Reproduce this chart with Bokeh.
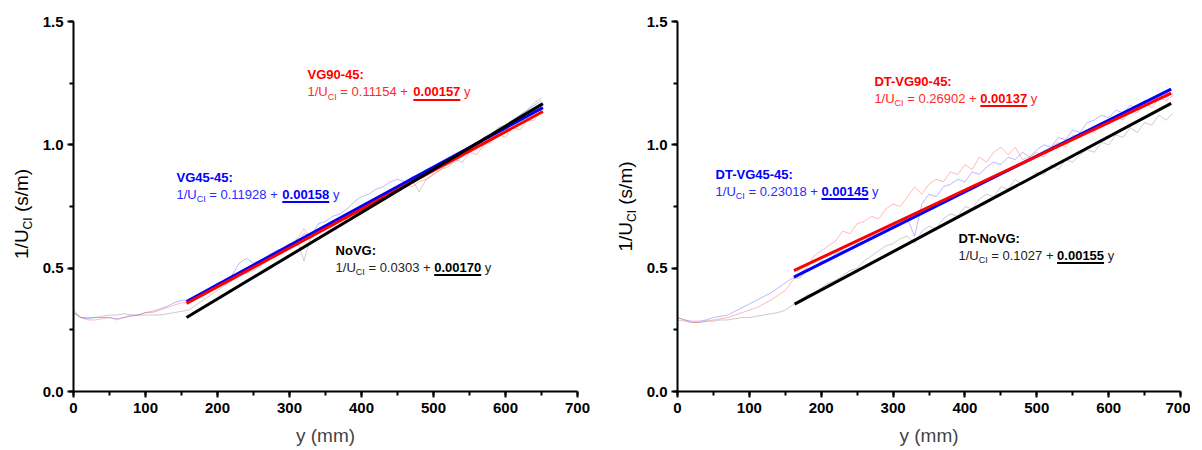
import math
from bokeh.plotting import figure
from bokeh.models import SingleIntervalTicker, PrintfTickFormatter, Range1d
from bokeh.core.properties import value
from bokeh.layouts import row
from bokeh.embed import file_html
from bokeh.resources import INLINE

FONT = "Liberation Sans"

# ---------------- data ----------------
# sampling positions (mm)
left_x_low = [0, 10, 20, 30, 40, 50, 60, 70, 80, 90, 100, 110, 120, 130, 140, 150]
left_x_up = list(range(160, 651, 10))
right_x_low = [0, 10, 20, 30, 40, 50, 60, 70, 80, 90, 100, 110, 120, 130, 140, 150, 160]
right_x_up = list(range(170, 691, 10))

# left panel raw traces (1/U_CI, s/m)
left_red_low = [0.33, 0.30, 0.29, 0.29, 0.295, 0.30, 0.29, 0.30, 0.31, 0.31, 0.32, 0.32, 0.33, 0.34, 0.35, 0.36]
left_blue_low = [0.32, 0.30, 0.295, 0.30, 0.30, 0.30, 0.295, 0.30, 0.305, 0.31, 0.32, 0.325, 0.335, 0.345, 0.36, 0.37]
left_gray_low = [0.32, 0.30, 0.30, 0.30, 0.305, 0.31, 0.31, 0.315, 0.31, 0.31, 0.31, 0.31, 0.31, 0.315, 0.32, 0.325]
left_red_up = [0.36, 0.38, 0.39, 0.41, 0.43, 0.45, 0.46, 0.48, 0.49, 0.51,
               0.52, 0.54, 0.55, 0.57, 0.58, 0.61, 0.66, 0.62, 0.65, 0.66,
               0.68, 0.70, 0.70, 0.73, 0.74, 0.75, 0.78, 0.78, 0.81, 0.81,
               0.84, 0.83, 0.85, 0.86, 0.88, 0.90, 0.91, 0.94, 0.93, 0.97,
               0.96, 1.00, 1.01, 1.04, 1.03, 1.07, 1.06, 1.10, 1.10, 1.14]
left_blue_up = [0.37, 0.39, 0.40, 0.42, 0.44, 0.45, 0.47, 0.52, 0.54, 0.52,
                0.53, 0.55, 0.57, 0.58, 0.60, 0.59, 0.64, 0.63, 0.68, 0.69,
                0.71, 0.72, 0.74, 0.77, 0.79, 0.80, 0.82, 0.83, 0.85, 0.86,
                0.85, 0.87, 0.88, 0.90, 0.91, 0.93, 0.94, 0.96, 0.97, 0.99,
                1.00, 1.03, 1.04, 1.07, 1.08, 1.10, 1.12, 1.14, 1.16, 1.18]
left_gray_up = [0.33, 0.35, 0.37, 0.39, 0.41, 0.43, 0.45, 0.47, 0.48, 0.49,
                0.51, 0.53, 0.55, 0.56, 0.58, 0.62, 0.53, 0.63, 0.64, 0.66,
                0.67, 0.69, 0.71, 0.72, 0.74, 0.76, 0.77, 0.79, 0.81, 0.82,
                0.84, 0.86, 0.81, 0.86, 0.88, 0.90, 0.92, 0.93, 0.95, 0.98,
                0.99, 1.02, 1.04, 1.05, 1.08, 1.10, 1.12, 1.14, 1.17, 1.19]

# right panel raw traces
right_red_low = [0.30, 0.29, 0.28, 0.28, 0.285, 0.29, 0.295, 0.30, 0.31, 0.32, 0.33, 0.34, 0.355, 0.37, 0.39, 0.41, 0.45]
right_blue_low = [0.30, 0.29, 0.285, 0.285, 0.29, 0.30, 0.305, 0.31, 0.325, 0.34, 0.355, 0.37, 0.385, 0.40, 0.42, 0.44, 0.46]
right_gray_low = [0.29, 0.285, 0.28, 0.28, 0.285, 0.285, 0.29, 0.29, 0.295, 0.30, 0.30, 0.305, 0.31, 0.315, 0.32, 0.33, 0.35]
right_red_up = [0.48, 0.50, 0.55, 0.57, 0.59, 0.61, 0.65, 0.64, 0.68, 0.69,
                0.71, 0.70, 0.74, 0.76, 0.75, 0.79, 0.83, 0.80, 0.84, 0.86,
                0.85, 0.89, 0.88, 0.92, 0.90, 0.95, 0.93, 0.97, 0.99, 0.96,
                0.99, 0.94, 0.95, 0.97, 0.95, 0.99, 1.01, 0.99, 1.04, 1.03,
                1.06, 1.05, 1.09, 1.08, 1.12, 1.10, 1.14, 1.13, 1.17, 1.15,
                1.19, 1.18, 1.20]
right_blue_up = [0.46, 0.49, 0.50, 0.53, 0.53, 0.56, 0.57, 0.58, 0.60, 0.61,
                 0.63, 0.64, 0.66, 0.67, 0.69, 0.70, 0.63, 0.76, 0.80, 0.79,
                 0.83, 0.84, 0.86, 0.85, 0.89, 0.88, 0.91, 0.93, 0.92, 0.95,
                 0.94, 0.97, 0.95, 0.98, 1.00, 0.99, 1.03, 1.02, 1.06, 1.05,
                 1.09, 1.10, 1.12, 1.11, 1.14, 1.13, 1.16, 1.15, 1.18, 1.17,
                 1.20, 1.19, 1.21]
right_gray_up = [0.37, 0.39, 0.40, 0.42, 0.44, 0.45, 0.47, 0.49, 0.50, 0.53,
                 0.55, 0.57, 0.59, 0.60, 0.62, 0.63, 0.60, 0.65, 0.67, 0.66,
                 0.70, 0.72, 0.71, 0.75, 0.74, 0.78, 0.80, 0.79, 0.83, 0.82,
                 0.86, 0.84, 0.86, 0.89, 0.88, 0.92, 0.90, 0.94, 0.93, 0.96,
                 0.98, 0.97, 1.01, 1.00, 1.04, 1.03, 1.07, 1.05, 1.09, 1.08,
                 1.12, 1.10, 1.13]

# linear fits (end points as drawn) : order = VG90 (red), VG45 (blue), NoVG (black)
left_fit_x0 = [157, 157, 157]
left_fit_x1 = [652, 652, 652]
left_fit_y0 = [0.357, 0.365, 0.300]
left_fit_y1 = [1.135, 1.151, 1.167]
right_fit_x0 = [162, 162, 163]
right_fit_x1 = [687, 687, 687]
right_fit_y0 = [0.490, 0.464, 0.354]
right_fit_y1 = [1.210, 1.226, 1.168]

left_names = ["VG90-45:", "VG45-45:", "NoVG:"]
left_intercepts = ["0.11154", "0.11928", "0.0303"]
left_slopes = ["0.00157", "0.00158", "0.00170"]
right_names = ["DT-VG90-45:", "DT-VG45-45:", "DT-NoVG:"]
right_intercepts = ["0.26902", "0.23018", "0.1027"]
right_slopes = ["0.00137", "0.00145", "0.00155"]

# annotation anchors (mm, 1/U) -- title baseline
left_anchor_x = [325, 143, 364]
left_anchor_y = [1.261, 0.847, 0.551]
right_anchor_x = [274, 53, 391]
right_anchor_y = [1.236, 0.859, 0.600]

# ---------------- styling ----------------
FIT_COLORS = ["#ff0000", "#0000ff", "#000000"]
EQ_COLORS = ["#ff2a2a", "#2a2aff", "#222222"]
TRACE_COLORS = ["#ff5050", "#5050ff", "#808080"]
FRAME_H = 370
TOP = 21
BOTTOM = 52
BASE_SHIFT = 0.42  # em: renderer draws "alphabetic" text this much below the anchor

WREG = {'0': .556, '1': .556, '2': .556, '3': .556, '4': .556, '5': .556, '6': .556,
        '7': .556, '8': .556, '9': .556, '.': .278, ' ': .278, '/': .278, '=': .584,
        '+': .584, 'U': .722, 'C': .722, 'I': .278, 'y': .5, '(': .333, ')': .333,
        's': .5, 'm': .833}


def tw(s, size):
    return sum(WREG.get(c, .556) for c in s) * size


def txt(p, x, y, s, size, color, sx, sy, bold=False, rotated=False):
    if rotated:
        x = x - BASE_SHIFT * size / sx
    else:
        y = y + BASE_SHIFT * size / sy
    p.text(x=[x], y=[y], text=[s], text_font=value(FONT), text_font_size=value(f"{size}px"),
           text_font_style="bold" if bold else "normal", text_color=color,
           text_baseline="alphabetic", text_align="left",
           angle=math.pi / 2 if rotated else 0.0)


def make_fig(frame_w, left_b, right_b):
    p = figure(frame_width=frame_w, frame_height=FRAME_H,
               x_range=Range1d(0, 700), y_range=Range1d(0, 1.5),
               output_backend="svg", toolbar_location=None,
               min_border_left=left_b, min_border_right=right_b,
               min_border_top=TOP, min_border_bottom=BOTTOM)
    p.grid.visible = False
    p.outline_line_color = None
    p.background_fill_color = "white"
    p.xaxis.ticker = SingleIntervalTicker(interval=100, num_minor_ticks=2)
    p.yaxis.ticker = SingleIntervalTicker(interval=0.5, num_minor_ticks=2)
    p.yaxis.formatter = PrintfTickFormatter(format="%.1f")
    for ax in (p.xaxis, p.yaxis):
        ax.axis_line_width = 2
        ax.axis_line_color = "black"
        ax.major_tick_line_width = 2
        ax.minor_tick_line_width = 2
        ax.major_tick_out = 6
        ax.major_tick_in = 0
        ax.minor_tick_out = 4
        ax.minor_tick_in = 0
        ax.major_label_text_font = FONT
        ax.major_label_text_font_style = "bold"
        ax.major_label_text_font_size = "15px"
        ax.major_label_text_color = "black"
    p.xaxis.major_label_standoff = 5
    p.yaxis.major_label_standoff = 4
    p.xaxis.axis_label = "y (mm)"
    p.xaxis.axis_label_text_font = FONT
    p.xaxis.axis_label_text_font_style = "normal"
    p.xaxis.axis_label_text_font_size = "19px"
    p.xaxis.axis_label_standoff = 9
    return p


def ylabel_fig(width, center_x, center_y):
    f = figure(frame_width=width, frame_height=FRAME_H,
               x_range=Range1d(0, width), y_range=Range1d(0, 1.5),
               x_axis_type=None, y_axis_type=None,
               output_backend="svg", toolbar_location=None,
               min_border_left=0, min_border_right=0,
               min_border_top=TOP, min_border_bottom=BOTTOM)
    f.grid.visible = False
    f.outline_line_color = None
    sx = 1.0
    sy = FRAME_H / 1.5
    size, sub = 19, 12
    w1 = tw("1/U", size)
    wsub = tw("CI", sub)
    wsp = tw(" ", size)
    w3 = tw("(s/m)", size)
    total = w1 + wsub + wsp + w3
    xb = center_x + 0.36 * size
    y0 = center_y - (total / 2) / sy
    txt(f, xb, y0, "1/U", size, "black", sx, sy, rotated=True)
    txt(f, xb + 4, y0 + w1 / sy, "CI", sub, "black", sx, sy, rotated=True)
    txt(f, xb, y0 + (w1 + wsub + wsp) / sy, "(s/m)", size, "black", sx, sy, rotated=True)
    return f


def add_eq(p, x, y, name, icpt, slope, color, eqcolor, sx, sy):
    size, sub = 13, 9
    txt(p, x, y, name, size, color, sx, sy, bold=True)
    ye = y - 17 / sy
    cx = 0.0
    txt(p, x, ye, "1/U", size, eqcolor, sx, sy)
    cx += tw("1/U", size)
    txt(p, x + cx / sx, ye - 3.5 / sy, "CI", sub, eqcolor, sx, sy)
    cx += tw("CI", sub) + tw(" ", size)
    mid = "= " + icpt + " +"
    txt(p, x + cx / sx, ye, mid, size, eqcolor, sx, sy)
    cx += tw(mid, size) + tw(" ", size)
    txt(p, x + cx / sx, ye, slope, size, color, sx, sy, bold=True)
    ws = tw(slope, size)
    p.segment(x0=[x + cx / sx], y0=[ye - 2.5 / sy], x1=[x + (cx + ws) / sx], y1=[ye - 2.5 / sy],
              line_color=color, line_width=2)
    cx += ws + tw(" ", size)
    txt(p, x + cx / sx, ye, "y", size, eqcolor, sx, sy)


def build(frame_w, lb, rb, xl, xu, lows, ups, fx0, fx1, fy0, fy1, names, icpts, slopes, ax, ay):
    p = make_fig(frame_w, lb, rb)
    sx = frame_w / 700.0
    sy = FRAME_H / 1.5
    for i in (2, 1, 0):
        p.line(xl + xu, lows[i] + ups[i], line_color=TRACE_COLORS[i], line_alpha=0.5, line_width=0.8)
    for i in (1, 0, 2):
        p.line([fx0[i], fx1[i]], [fy0[i], fy1[i]], line_color=FIT_COLORS[i], line_width=3)
    for i in range(3):
        add_eq(p, ax[i], ay[i], names[i], icpts[i], slopes[i], FIT_COLORS[i], EQ_COLORS[i], sx, sy)
    return p


yl1 = ylabel_fig(34, 22, 0.72)
p1 = build(504, 39, 30, left_x_low, left_x_up,
           [left_red_low, left_blue_low, left_gray_low],
           [left_red_up, left_blue_up, left_gray_up],
           left_fit_x0, left_fit_x1, left_fit_y0, left_fit_y1,
           left_names, left_intercepts, left_slopes, left_anchor_x, left_anchor_y)
yl2 = ylabel_fig(34, 19, 0.75)
p2 = build(503, 36, 10, right_x_low, right_x_up,
           [right_red_low, right_blue_low, right_gray_low],
           [right_red_up, right_blue_up, right_gray_up],
           right_fit_x0, right_fit_x1, right_fit_y0, right_fit_y1,
           right_names, right_intercepts, right_slopes, right_anchor_x, right_anchor_y)

layout = row(yl1, p1, yl2, p2)
open("out.html", "w").write(file_html(layout, INLINE))
